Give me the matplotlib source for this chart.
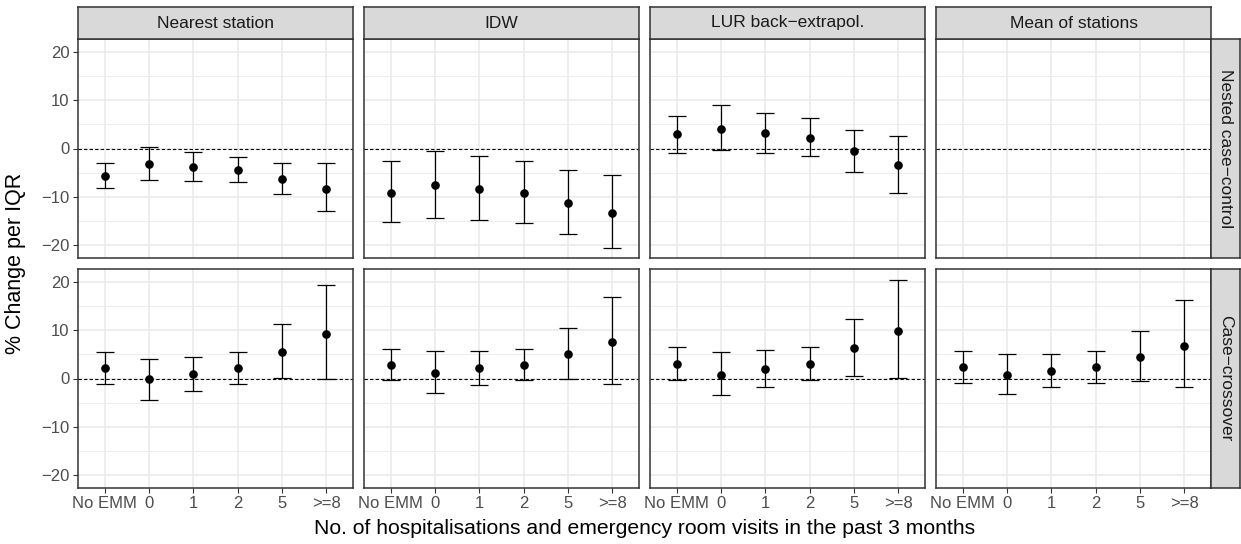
import numpy as np
import matplotlib
matplotlib.use("Agg")
import matplotlib.pyplot as plt

plt.rcParams['font.family'] = ['Liberation Sans', 'DejaVu Sans']

categories = ["No EMM", "0", "1", "2", "5", ">=8"]
methods = ["Nearest station", "IDW", "LUR back\u2212extrapol.", "Mean of stations"]
designs = ["Nested case\u2212control", "Case\u2212crossover"]

# Nested case-control (row 1)
ncc_est = {
    "Nearest station": [-5.6, -3.1, -3.8, -4.5, -6.3, -8.3],
    "IDW": [-9.1, -7.6, -8.4, -9.2, -11.3, -13.4],
    "LUR back\u2212extrapol.": [2.9, 4.1, 3.1, 2.2, -0.6, -3.5],
    "Mean of stations": None,
}
ncc_lo = {
    "Nearest station": [-8.1, -6.6, -6.8, -7.0, -9.4, -13.0],
    "IDW": [-15.2, -14.3, -14.7, -15.4, -17.7, -20.6],
    "LUR back\u2212extrapol.": [-1.0, -0.3, -1.0, -1.6, -4.8, -9.1],
    "Mean of stations": None,
}
ncc_hi = {
    "Nearest station": [-3.0, 0.3, -0.8, -1.7, -3.0, -3.0],
    "IDW": [-2.5, -0.5, -1.6, -2.5, -4.5, -5.5],
    "LUR back\u2212extrapol.": [6.8, 8.9, 7.4, 6.2, 3.8, 2.5],
    "Mean of stations": None,
}

# Case-crossover (row 2)
cco_est = {
    "Nearest station": [2.1, -0.1, 1.0, 2.1, 5.5, 9.2],
    "IDW": [2.7, 1.2, 2.1, 2.7, 5.1, 7.5],
    "LUR back\u2212extrapol.": [2.9, 0.8, 1.9, 2.9, 6.3, 9.8],
    "Mean of stations": [2.3, 0.8, 1.6, 2.3, 4.5, 6.7],
}
cco_lo = {
    "Nearest station": [-1.2, -4.4, -2.6, -1.2, 0.1, -0.1],
    "IDW": [-0.3, -2.9, -1.4, -0.4, 0.0, -1.2],
    "LUR back\u2212extrapol.": [-0.4, -3.5, -1.8, -0.4, 0.6, 0.1],
    "Mean of stations": [-0.9, -3.3, -1.8, -1.0, -0.6, -1.8],
}
cco_hi = {
    "Nearest station": [5.5, 4.1, 4.5, 5.5, 11.3, 19.3],
    "IDW": [6.0, 5.6, 5.6, 6.0, 10.4, 16.9],
    "LUR back\u2212extrapol.": [6.5, 5.5, 5.8, 6.5, 12.3, 20.3],
    "Mean of stations": [5.6, 5.1, 5.1, 5.6, 9.9, 16.2],
}

W, H = 1241, 544
fig = plt.figure(figsize=(W / 100, H / 100), dpi=100)

border = "#333333"
grid_c = "#EBEBEB"
x_left = [78, 364, 650, 936]
pw = 275
row_top = [39, 269]
ph = 219
strip_h = 32
strip_w = 29

def frac(x, y, w, h):
    return [x / W, 1 - (y + h) / H, w / W, h / H]

rows = [(ncc_est, ncc_lo, ncc_hi), (cco_est, cco_lo, cco_hi)]
xpos = np.arange(1, len(categories) + 1)

for r, (est, lo, hi) in enumerate(rows):
    for c, m in enumerate(methods):
        ax = fig.add_axes(frac(x_left[c], row_top[r], pw, ph))
        ax.set_xlim(0.4, 6.6)
        ax.set_ylim(-22.6, 22.6)
        for yv in [-15, -5, 5, 15]:
            ax.axhline(yv, color=grid_c, lw=0.6, zorder=0)
        for yv in [-20, -10, 0, 10, 20]:
            ax.axhline(yv, color=grid_c, lw=1.2, zorder=0)
        for xv in xpos:
            ax.axvline(xv, color=grid_c, lw=1.2, zorder=0)
        ax.axhline(0, color="black", lw=0.8, ls=(0, (3, 2)), zorder=1)
        if est[m] is not None:
            e = np.array(est[m])
            l = np.array(lo[m])
            h = np.array(hi[m])
            ax.errorbar(xpos, e, yerr=[e - l, h - e], fmt="none", ecolor="black",
                        elinewidth=0.9, capsize=6.5, capthick=0.9, zorder=2)
            ax.plot(xpos, e, "o", color="black", ms=5.2, zorder=3)
        for s in ax.spines.values():
            s.set_color(border)
            s.set_linewidth(1.1)
        ax.set_yticks([-20, -10, 0, 10, 20])
        ax.set_xticks(xpos)
        ax.tick_params(colors=border, length=3.5, width=0.8, labelcolor="#4D4D4D",
                       labelsize=12, pad=2.5)
        if c == 0:
            ax.set_yticklabels(["\u221220", "\u221210", "0", "10", "20"])
        else:
            ax.tick_params(axis="y", length=0, labelleft=False)
        if r == 1:
            ax.set_xticklabels(categories)
        else:
            ax.tick_params(axis="x", length=0, labelbottom=False)

        if r == 0:
            sax = fig.add_axes(frac(x_left[c], row_top[0] - strip_h, pw, strip_h))
            sax.set_facecolor("#D9D9D9")
            sax.set_xticks([])
            sax.set_yticks([])
            for s in sax.spines.values():
                s.set_color(border)
                s.set_linewidth(1.1)
            sax.text(0.5, 0.5, m, ha="center", va="center", fontsize=12.5,
                     color="#1A1A1A", transform=sax.transAxes)
        if c == 3:
            sax = fig.add_axes(frac(x_left[3] + pw, row_top[r], strip_w, ph))
            sax.set_facecolor("#D9D9D9")
            sax.set_xticks([])
            sax.set_yticks([])
            for s in sax.spines.values():
                s.set_color(border)
                s.set_linewidth(1.1)
            sax.text(0.5, 0.5, designs[r], ha="center", va="center", fontsize=12.5,
                     color="#1A1A1A", rotation=-90, transform=sax.transAxes)

fig.text((x_left[0] + x_left[3] + pw) / 2 / W, 1 - 528 / H,
         "No. of hospitalisations and emergency room visits in the past 3 months",
         ha="center", va="center", fontsize=15.2)
fig.text(16 / W, 1 - ((row_top[0] + row_top[1] + ph) / 2) / H, "% Change per IQR",
         ha="center", va="center", rotation=90, fontsize=15.5)

fig.savefig("out.png", dpi=100)
